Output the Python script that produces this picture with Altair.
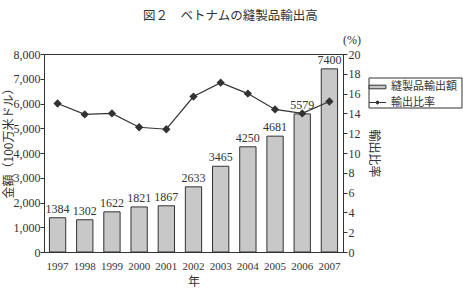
import altair as alt
import pandas as pd

years = ['1997', '1998', '1999', '2000', '2001', '2002', '2003', '2004', '2005', '2006', '2007']
exports = [1384, 1302, 1622, 1821, 1867, 2633, 3465, 4250, 4681, 5579, 7400]
ratio = [15.0, 13.9, 14.0, 12.6, 12.4, 15.7, 17.1, 16.0, 14.4, 14.0, 15.2]

bar_name = '縫製品輸出額'
line_name = '輸出比率'

df = pd.DataFrame({'year': years, 'exports': exports, 'ratio': ratio,
                   'bar_s': [bar_name] * len(years), 'line_s': [line_name] * len(years)})

NUM = 'Liberation Serif'
JP = 'Noto Sans CJK JP'
INK = '#333333'
GRAY = '#c8c8c8'

bar_legend = alt.Legend(
    title=None, orient='none', legendX=327, legendY=26.5, padding=0,
    symbolType='M-1.4,-0.3L1.4,-0.3L1.4,0.3L-1.4,0.3Z', symbolSize=144,
    symbolStrokeColor=INK, symbolStrokeWidth=1,
    labelFont=JP, labelFontSize=11, labelColor=INK, labelOffset=7,
)
line_legend = alt.Legend(
    title=None, orient='none', legendX=327, legendY=42, padding=0,
    symbolType='M-1.4,0L1.4,0M-0.3,0L0,-0.3L0.3,0L0,0.3Z', symbolSize=144,
    symbolStrokeColor=INK, symbolFillColor=INK, symbolStrokeWidth=1,
    labelFont=JP, labelFontSize=11, labelColor=INK, labelOffset=7,
)

x_enc = alt.X('year:O', scale=alt.Scale(paddingInner=0.4, paddingOuter=0.2),
              axis=alt.Axis(title='年', labelAngle=0, labelFont=NUM, labelFontSize=11,
                            labelColor=INK, titleFont=JP, titleFontSize=12, titleColor=INK,
                            titleFontWeight='normal', titlePadding=5, ticks=False,
                            domainColor=INK, labelPadding=8))

y_left = alt.Y('exports:Q', scale=alt.Scale(domain=[0, 8000]),
               axis=alt.Axis(title='金額（100万米ドル）', values=list(range(0, 8001, 1000)),
                             format=',d', grid=False, labelFont=NUM, labelFontSize=12,
                             labelColor=INK, titleFont=JP, titleFontSize=12, titleColor=INK,
                             titleFontWeight='normal', tickSize=4, tickColor=INK,
                             domainColor=INK, labelPadding=0, titlePadding=-2,
                             titleY=86, labelOverlap=False))

base = alt.Chart(df)

bars = base.mark_bar(stroke=INK, strokeWidth=1).encode(
    x=x_enc,
    y=y_left,
    fill=alt.Fill('bar_s:N', scale=alt.Scale(domain=[bar_name], range=[GRAY]), legend=bar_legend),
)

labels = base.mark_text(dy=-9, font=NUM, fontSize=12, color=INK).encode(
    x=x_enc,
    y=y_left,
    text='exports:Q',
)

left = alt.layer(bars, labels)

line = base.mark_line(strokeWidth=1.2, point=alt.OverlayMarkDef(shape='diamond', size=30, filled=True, color=INK)).encode(
    x=x_enc,
    y=alt.Y('ratio:Q', scale=alt.Scale(domain=[0, 20]),
            axis=alt.Axis(orient='right', title=line_name, values=list(range(0, 21, 2)),
                          grid=False, labelFont=NUM, labelFontSize=12, labelColor=INK,
                          titleFont=JP, titleFontSize=12, titleColor=INK,
                          titleFontWeight='normal', tickSize=4, tickColor=INK,
                          domainColor=INK, labelPadding=1, titlePadding=6,
                          labelOverlap=False)),
    stroke=alt.Stroke('line_s:N', scale=alt.Scale(domain=[line_name], range=[INK]), legend=line_legend),
)

pct = alt.Chart(pd.DataFrame({'t': ['(%)']})).mark_text(font=NUM, fontSize=12, color=INK).encode(
    x=alt.value(308), y=alt.value(-14), text='t:N'
)

box = alt.Chart(pd.DataFrame({'t': [0]})).mark_rect(fill=None, stroke=INK, strokeWidth=1).encode(
    x=alt.value(325), x2=alt.value(418), y=alt.value(24), y2=alt.value(54)
)

chart = alt.layer(left, line, pct, box).resolve_scale(y='independent').properties(
    width=299, height=198,
    autosize=alt.AutoSizeParams(type='none'),
    padding={'left': 44, 'top': 54, 'right': 120, 'bottom': 38},
    title=alt.TitleParams('図２　ベトナムの縫製品輸出高', font=JP, fontSize=12.5,
                          fontWeight='normal', color=INK, offset=12,
                          anchor='start', frame='group', dx=99),
).configure_view(stroke=INK, strokeWidth=1)

chart.save('out.html', embed_options={'renderer': 'svg', 'actions': False})
